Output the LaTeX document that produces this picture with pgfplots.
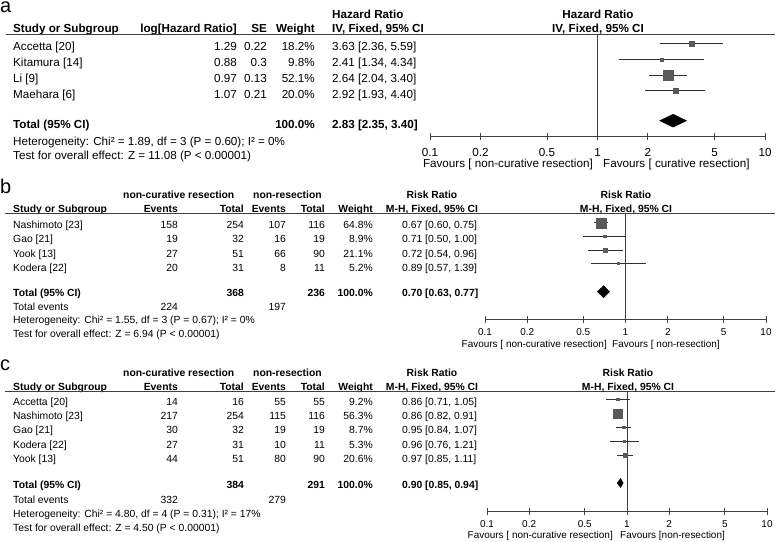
\documentclass[border=0pt]{standalone}
\usepackage{fontspec}
\setmainfont{Liberation Sans}
\usepackage{pgfplots}
\pgfplotsset{compat=1.18}

\definecolor{sq}{HTML}{5A5A5A}
\definecolor{ax}{HTML}{404040}
\definecolor{cl}{HTML}{303030}

\newcommand\fa{\fontsize{11.7}{13}\selectfont}
\newcommand\fb{\fontsize{10.4}{12}\selectfont}
\newcommand\fp{\fontsize{10}{12}\selectfont}
\newcommand\fbig{\fontsize{20}{20}\selectfont}

\pgfplotsset{
  cil/.style={cl, line width=1bp, mark=none},
  sqm/.style={only marks, mark=square*, mark options={sq, fill=sq}, mark size=#1},
  dia/.style={black, fill=black, mark=none},
  one/.style={ax, line width=1bp, mark=none},
}

% table rows
\newcommand\rowa[6]{%
  \node[L] at (13,-#1) {#2}; \node[R] at (237,-#1) {#3};
  \node[R] at (267,-#1) {#4}; \node[R] at (315,-#1) {#5};
  \node[L] at (332,-#1) {#6};}
\newcommand\rowb[8]{%
  \node[L] at (13,-#1) {#2}; \node[R] at (178,-#1) {#3};
  \node[R] at (244,-#1) {#4}; \node[R] at (286,-#1) {#5};
  \node[R] at (325,-#1) {#6}; \node[R] at (373,-#1) {#7};
  \node[L] at (402,-#1) {#8};}

\begin{document}
\begin{tikzpicture}[
  L/.style={anchor=base west, inner sep=0pt},
  R/.style={anchor=base east, inner sep=0pt},
  C/.style={anchor=base, inner sep=0pt},
  F/.style={inner sep=0pt, text height=8bp, text depth=2bp},
  P/.style={anchor=base west, inner sep=0pt, font=\fbig, text height=11bp, text depth=0pt}]
\useasboundingbox (0bp,0bp) rectangle (778bp,-542bp);

\begin{scope}[x=1bp, y=1bp]
% ---------------- panel a ----------------
\begin{scope}[font=\fa]
\node[P] at (0,-12.7) {a};
\node[L] at (332,-18) {\bfseries Hazard Ratio};
\node[C] at (598,-18) {\bfseries Hazard Ratio};
\node[L] at (13,-32.5) {\bfseries Study or Subgroup};
\node[R] at (237,-32.5) {\bfseries log[Hazard Ratio]};
\node[R] at (267,-32.5) {\bfseries SE};
\node[R] at (315,-32.5) {\bfseries Weight};
\node[L] at (332,-32.5) {\bfseries IV, Fixed, 95\% CI};
\node[C] at (598,-32.5) {\bfseries IV, Fixed, 95\% CI};
\draw[ax, line width=1bp] (6,-34) -- (775,-34);
\rowa{50}{Accetta [20]}{1.29}{0.22}{18.2\%}{3.63 [2.36, 5.59]}
\rowa{66.3}{Kitamura [14]}{0.88}{0.3}{9.8\%}{2.41 [1.34, 4.34]}
\rowa{82.7}{Li [9]}{0.97}{0.13}{52.1\%}{2.64 [2.04, 3.40]}
\rowa{98}{Maehara [6]}{1.07}{0.21}{20.0\%}{2.92 [1.93, 4.40]}
\node[L] at (13,-128) {\bfseries Total (95\% CI)};
\node[R] at (315,-128) {\bfseries 100.0\%};
\node[L] at (332,-128) {\bfseries 2.83 [2.35, 3.40]};
\node[L] at (13,-145.7) {Heterogeneity: Chi² = 1.89, df = 3 (P = 0.60); I² = 0\%};
\node[L] at (13,-159.7) {Test for overall effect: Z = 11.08 (P < 0.00001)};
\node[F, anchor=base east] at (593,-167) {Favours [ non-curative resection]};
\node[F, anchor=base west] at (603,-167) {Favours [ curative resection]};
\end{scope}

% ---------------- panel b ----------------
\begin{scope}[font=\fb]
\node[P] at (0,-193.3) {b};
\node[L] at (123,-198.7) {\bfseries non-curative resection};
\node[L] at (253,-198.7) {\bfseries non-resection};
\node[C] at (432,-198.7) {\bfseries Risk Ratio};
\node[L] at (13,-212) {\bfseries Study or Subgroup};
\node[R] at (178,-212) {\bfseries Events};
\node[R] at (244,-212) {\bfseries Total};
\node[R] at (286,-212) {\bfseries Events};
\node[R] at (325,-212) {\bfseries Total};
\node[R] at (373,-212) {\bfseries Weight};
\node[C] at (432,-212) {\bfseries M-H, Fixed, 95\% CI};
\draw[ax, line width=1bp] (5,-213.5) -- (775,-213.5);
\rowb{228.7}{Nashimoto [23]}{158}{254}{107}{116}{64.8\%}{0.67 [0.60, 0.75]}
\rowb{242.7}{Gao [21]}{19}{32}{16}{19}{8.9\%}{0.71 [0.50, 1.00]}
\rowb{257}{Yook [13]}{27}{51}{66}{90}{21.1\%}{0.72 [0.54, 0.96]}
\rowb{271.4}{Kodera [22]}{20}{31}{8}{11}{5.2\%}{0.89 [0.57, 1.39]}
\rowb{296.4}{\bfseries Total (95\% CI)}{}{\bfseries 368}{}{\bfseries 236}{\bfseries 100.0\%}{\bfseries 0.70 [0.63, 0.77]}
\node[L] at (13,-310.4) {Total events};
\node[R] at (178,-310.4) {224};
\node[R] at (286,-310.4) {197};
\node[L] at (13,-323.7) {Heterogeneity: Chi² = 1.55, df = 3 (P = 0.67); I² = 0\%};
\node[L] at (13,-337) {Test for overall effect: Z = 6.94 (P < 0.00001)};
\node[C] at (626,-198.7) {\bfseries Risk Ratio};
\node[C] at (626,-212) {\bfseries M-H, Fixed, 95\% CI};
\end{scope}
\begin{scope}[font=\fp]
\node[F, anchor=base east] at (607,-347) {Favours [ non-curative resection]};
\node[F, anchor=base west] at (612,-347) {Favours [ non-resection]};
\end{scope}

% ---------------- panel c ----------------
\begin{scope}[font=\fb]
\node[P] at (0,-370.7) {c};
\node[L] at (123,-376.7) {\bfseries non-curative resection};
\node[L] at (253,-376.7) {\bfseries non-resection};
\node[C] at (432,-376.7) {\bfseries Risk Ratio};
\node[L] at (13,-390) {\bfseries Study or Subgroup};
\node[R] at (178,-390) {\bfseries Events};
\node[R] at (244,-390) {\bfseries Total};
\node[R] at (286,-390) {\bfseries Events};
\node[R] at (325,-390) {\bfseries Total};
\node[R] at (373,-390) {\bfseries Weight};
\node[C] at (432,-390) {\bfseries M-H, Fixed, 95\% CI};
\draw[ax, line width=1bp] (5,-391.5) -- (775,-391.5);
\rowb{405.4}{Accetta [20]}{14}{16}{55}{55}{9.2\%}{0.86 [0.71, 1.05]}
\rowb{419}{Nashimoto [23]}{217}{254}{115}{116}{56.3\%}{0.86 [0.82, 0.91]}
\rowb{433.7}{Gao [21]}{30}{32}{19}{19}{8.7\%}{0.95 [0.84, 1.07]}
\rowb{448}{Kodera [22]}{27}{31}{10}{11}{5.3\%}{0.96 [0.76, 1.21]}
\rowb{462}{Yook [13]}{44}{51}{80}{90}{20.6\%}{0.97 [0.85, 1.11]}
\rowb{488.2}{\bfseries Total (95\% CI)}{}{\bfseries 384}{}{\bfseries 291}{\bfseries 100.0\%}{\bfseries 0.90 [0.85, 0.94]}
\node[L] at (13,-503.2) {Total events};
\node[R] at (178,-503.2) {332};
\node[R] at (286,-503.2) {279};
\node[L] at (13,-517.2) {Heterogeneity: Chi² = 4.80, df = 4 (P = 0.31); I² = 17\%};
\node[L] at (13,-531.2) {Test for overall effect: Z = 4.50 (P < 0.00001)};
\node[C] at (628,-376.7) {\bfseries Risk Ratio};
\node[C] at (628,-390) {\bfseries M-H, Fixed, 95\% CI};
\end{scope}
\begin{scope}[font=\fp]
\node[F, anchor=base east] at (613,-538) {Favours [ non-curative resection]};
\node[F, anchor=base west] at (620,-538) {Favours [non-resection]};
\end{scope}
\end{scope}

% ---------------- forest plot a ----------------
\begin{axis}[xmode=log, xmin=0.1, xmax=10,
  scale only axis, anchor=south west, clip=false,
  axis x line=bottom, axis y line=none,
  axis line style={-, ax, line width=1bp},
  xtick={0.1,0.2,0.5,1,2,5,10}, xticklabels={0.1,0.2,0.5,1,2,5,10},
  xminorticks=false, tick align=center, major tick length=6.5bp,
  major tick style={ax, line width=1bp},
  at={(430bp,-136.7bp)}, width=335bp, height=102.7bp,
  ymin=-136.7, ymax=-34,
  xticklabel style={font=\fa, anchor=base, text depth=0pt, yshift=-16.7bp}]
\addplot[one] coordinates {(1,-34) (1,-136.7)};
\addplot[cil] coordinates {(2.36,-43.3) (5.59,-43.3)};
\addplot[sqm=2.5bp] coordinates {(3.63,-43.3)};
\addplot[cil] coordinates {(1.34,-59.3) (4.34,-59.3)};
\addplot[sqm=1.5bp] coordinates {(2.41,-59.3)};
\addplot[cil] coordinates {(2.04,-75.5) (3.40,-75.5)};
\addplot[sqm=5bp] coordinates {(2.64,-75.5)};
\addplot[cil] coordinates {(1.93,-90.7) (4.40,-90.7)};
\addplot[sqm=2.5bp] coordinates {(2.92,-90.7)};
\addplot[dia] coordinates {(2.35,-120.7) (2.83,-114.2) (3.40,-120.7) (2.83,-127.2)} -- cycle;
\end{axis}

% ---------------- forest plot b ----------------
\begin{axis}[xmode=log, xmin=0.1, xmax=10,
  scale only axis, anchor=south west, clip=false,
  axis x line=bottom, axis y line=none,
  axis line style={-, ax, line width=1bp},
  xtick={0.1,0.2,0.5,1,2,5,10}, xticklabels={0.1,0.2,0.5,1,2,5,10},
  xminorticks=false, tick align=center, major tick length=6.5bp,
  major tick style={ax, line width=1bp},
  at={(485bp,-319.3bp)}, width=281bp, height=105.8bp,
  ymin=-319.3, ymax=-213.5,
  xticklabel style={font=\fp, anchor=base, text depth=0pt, yshift=-13bp}]
\addplot[one] coordinates {(1,-213.5) (1,-319.3)};
\addplot[cil] coordinates {(0.60,-222.7) (0.75,-222.7)};
\addplot[sqm=5bp] coordinates {(0.67,-222.7)};
\addplot[cil] coordinates {(0.50,-236) (1.00,-236)};
\addplot[sqm=1.2bp] coordinates {(0.71,-236)};
\addplot[cil] coordinates {(0.54,-250) (0.96,-250)};
\addplot[sqm=2bp] coordinates {(0.72,-250)};
\addplot[cil] coordinates {(0.57,-263.3) (1.39,-263.3)};
\addplot[sqm=1bp] coordinates {(0.89,-263.3)};
\addplot[dia] coordinates {(0.63,-291.7) (0.70,-285.7) (0.77,-291.7) (0.70,-297.7)} -- cycle;
\end{axis}

% ---------------- forest plot c ----------------
\begin{axis}[xmode=log, xmin=0.1, xmax=10,
  scale only axis, anchor=south west, clip=false,
  axis x line=bottom, axis y line=none,
  axis line style={-, ax, line width=1bp},
  xtick={0.1,0.2,0.5,1,2,5,10}, xticklabels={0.1,0.2,0.5,1,2,5,10},
  xminorticks=false, tick align=center, major tick length=6.5bp,
  major tick style={ax, line width=1bp},
  at={(487bp,-511.7bp)}, width=280bp, height=120.2bp,
  ymin=-511.7, ymax=-391.5,
  xticklabel style={font=\fp, anchor=base, text depth=0pt, yshift=-12.7bp}]
\addplot[one] coordinates {(1,-391.5) (1,-511.7)};
\addplot[cil] coordinates {(0.71,-399.3) (1.05,-399.3)};
\addplot[sqm=1.2bp] coordinates {(0.86,-399.3)};
\addplot[cil] coordinates {(0.82,-413.3) (0.91,-413.3)};
\addplot[sqm=4.5bp] coordinates {(0.86,-413.3)};
\addplot[cil] coordinates {(0.84,-427.3) (1.07,-427.3)};
\addplot[sqm=1.2bp] coordinates {(0.95,-427.3)};
\addplot[cil] coordinates {(0.76,-441) (1.21,-441)};
\addplot[sqm=1bp] coordinates {(0.96,-441)};
\addplot[cil] coordinates {(0.85,-455.3) (1.11,-455.3)};
\addplot[sqm=2bp] coordinates {(0.97,-455.3)};
\addplot[dia] coordinates {(0.85,-483) (0.90,-478.5) (0.94,-483) (0.90,-487.5)} -- cycle;
\end{axis}
\end{tikzpicture}
\end{document}
